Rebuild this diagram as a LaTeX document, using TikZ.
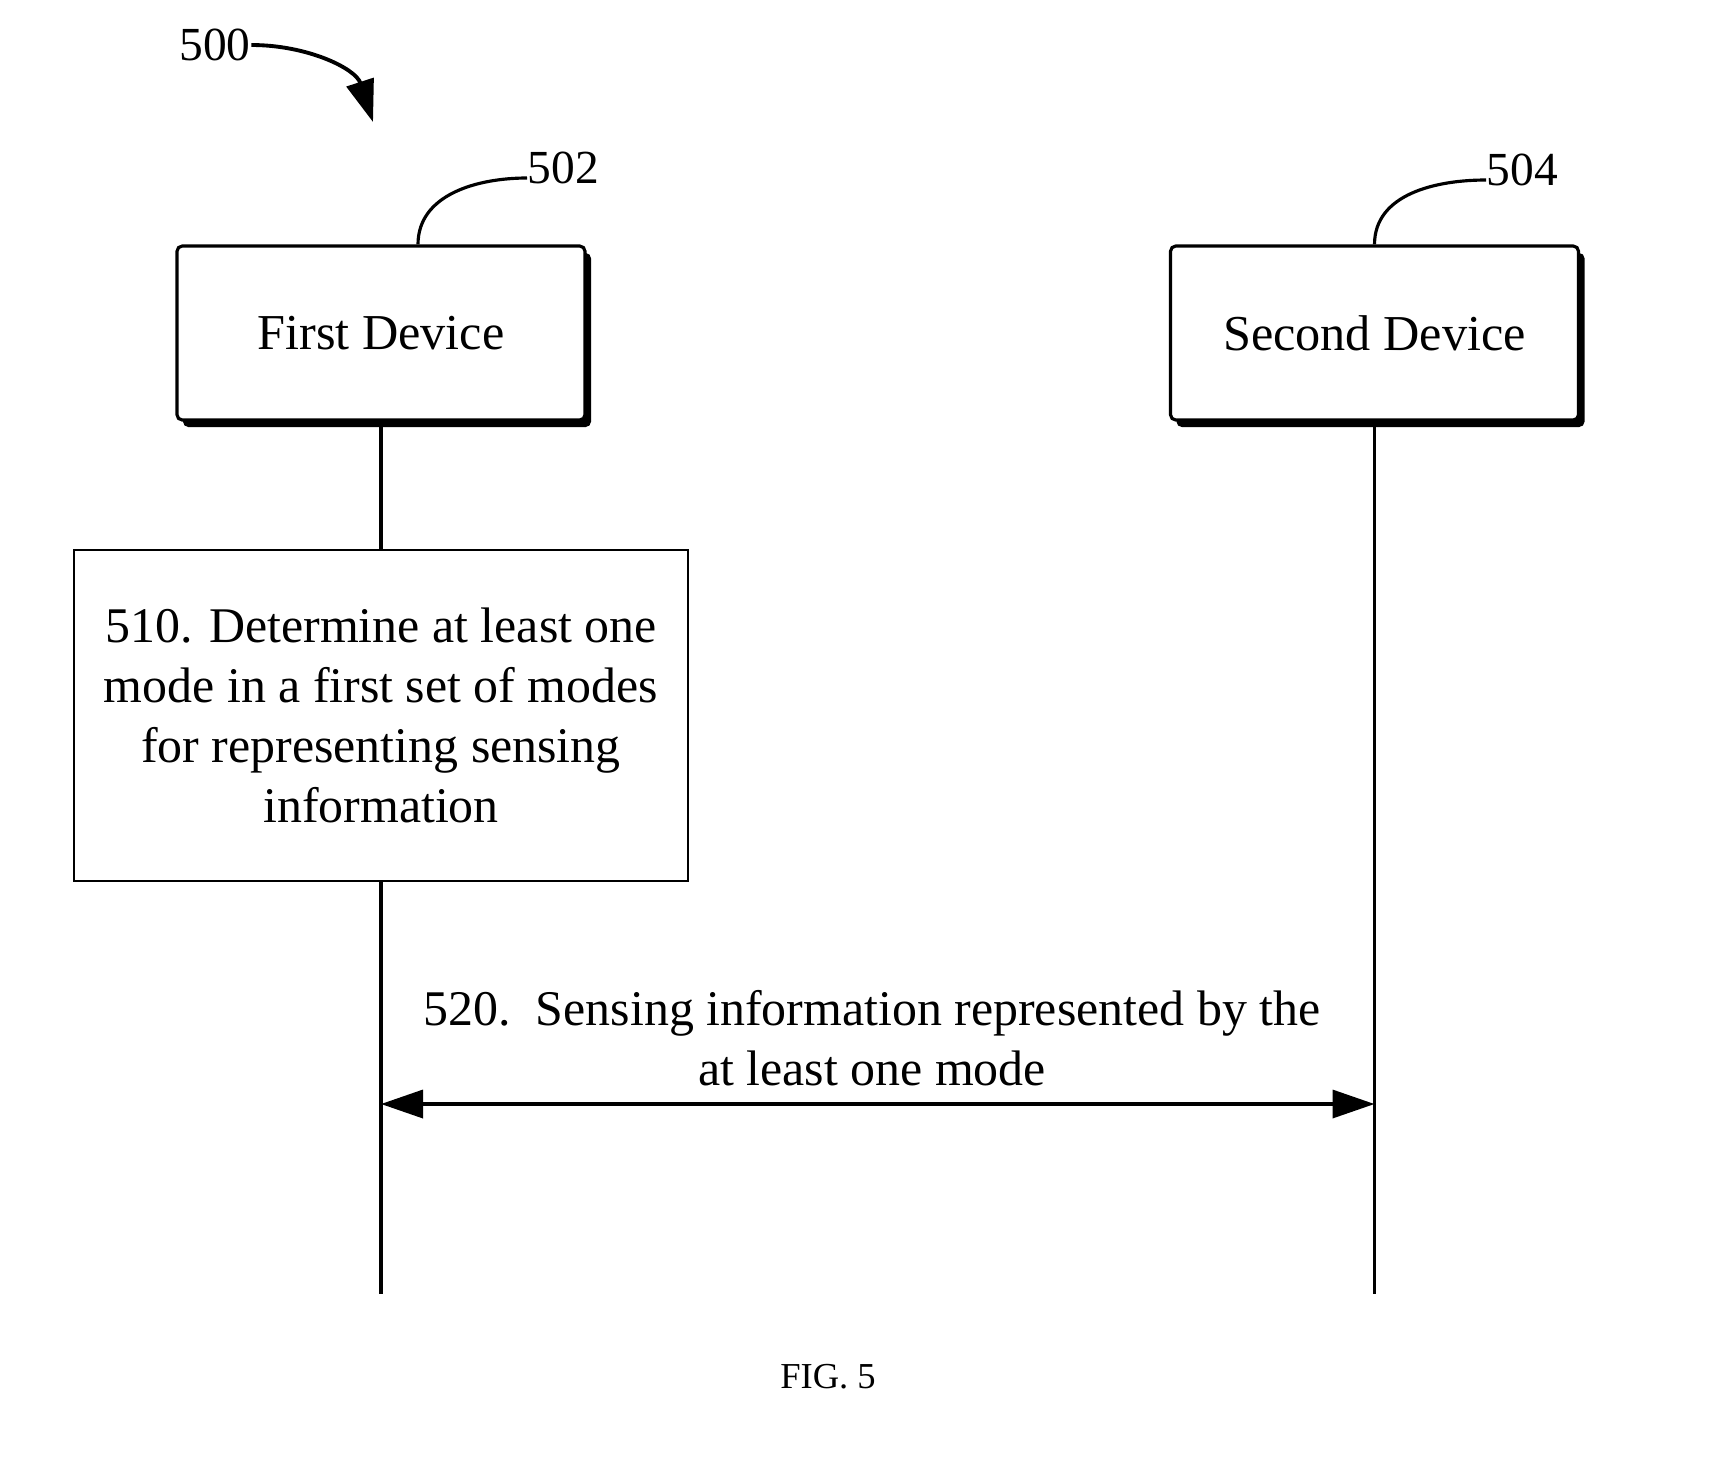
\documentclass[tikz,border=0pt]{standalone}
\usepackage{fontspec}
\setmainfont{Liberation Serif}
\usetikzlibrary{arrows.meta,shadows}

\begin{document}
\begin{tikzpicture}[>=Triangle,
  devbox/.style={draw,line width=0.9pt,rounded corners=1.5pt,fill=white,minimum width=4.08cm,minimum height=1.74cm,font=\fontsize{14.3}{17}\selectfont,drop shadow={shadow xshift=0.06cm,shadow yshift=-0.07cm,fill=black,opacity=1}},
  stepbox/.style={draw,line width=0.8pt,minimum width=6.14cm,minimum height=3.31cm,align=center,font=\fontsize{14.2}{17.1}\selectfont},
  msglabel/.style={align=center,font=\fontsize{14.2}{17.1}\selectfont},
  reflabel/.style={font=\fontsize{13.5}{16}\selectfont,inner sep=0pt},
  lifeline/.style={line width=0.9pt}]
\useasboundingbox (0,0) rectangle (17.24,-14.66);
\node[reflabel] (n500) at (2.15,-0.45) {500};
\coordinate (p500) at (3.73,-1.22);
\draw[line width=1.1pt,-{Triangle[length=4.2mm,width=2.8mm]}] (n500.east) to[out=0,in=108] (p500);
\node[devbox] (fd) at (3.81,-3.33) {First Device};
\node[devbox] (sd) at (13.745,-3.33) {Second Device};
\node[reflabel,anchor=west] (n502) at (5.27,-1.68) {502};
\node[reflabel,anchor=west] (n504) at (14.86,-1.70) {504};
\draw[line width=0.9pt] ([xshift=0.37cm]fd.north) to[out=90,in=180] ([yshift=-1mm]n502.west);
\draw[line width=0.9pt] (sd.north) to[out=90,in=180] ([yshift=-1mm]n504.west);
\node[stepbox] (s510) at (3.81,-7.155) {510. Determine at least one\\mode in a first set of modes\\for representing sensing\\information};
\coordinate (e1) at (3.81,-12.94);
\coordinate (e2) at (13.745,-12.94);
\draw[lifeline] (fd.south)--(s510.north);
\draw[lifeline] (s510.south)--(e1);
\draw[lifeline] (sd.south)--(e2);
% message 520
\coordinate (m1) at (3.81,-11.04);
\coordinate (m2) at (13.745,-11.04);
\draw[line width=1pt,{Triangle[length=4.2mm,width=2.8mm]}-{Triangle[length=4.2mm,width=2.8mm]}] (m1)--(m2);
\node[msglabel] (l520) at (8.72,-10.38) {520.\ \ Sensing information represented by the\\at least one mode};
\node[font=\fontsize{10.4}{12}\selectfont] (fig) at (8.28,-13.77) {FIG. 5};
\end{tikzpicture}
\end{document}
